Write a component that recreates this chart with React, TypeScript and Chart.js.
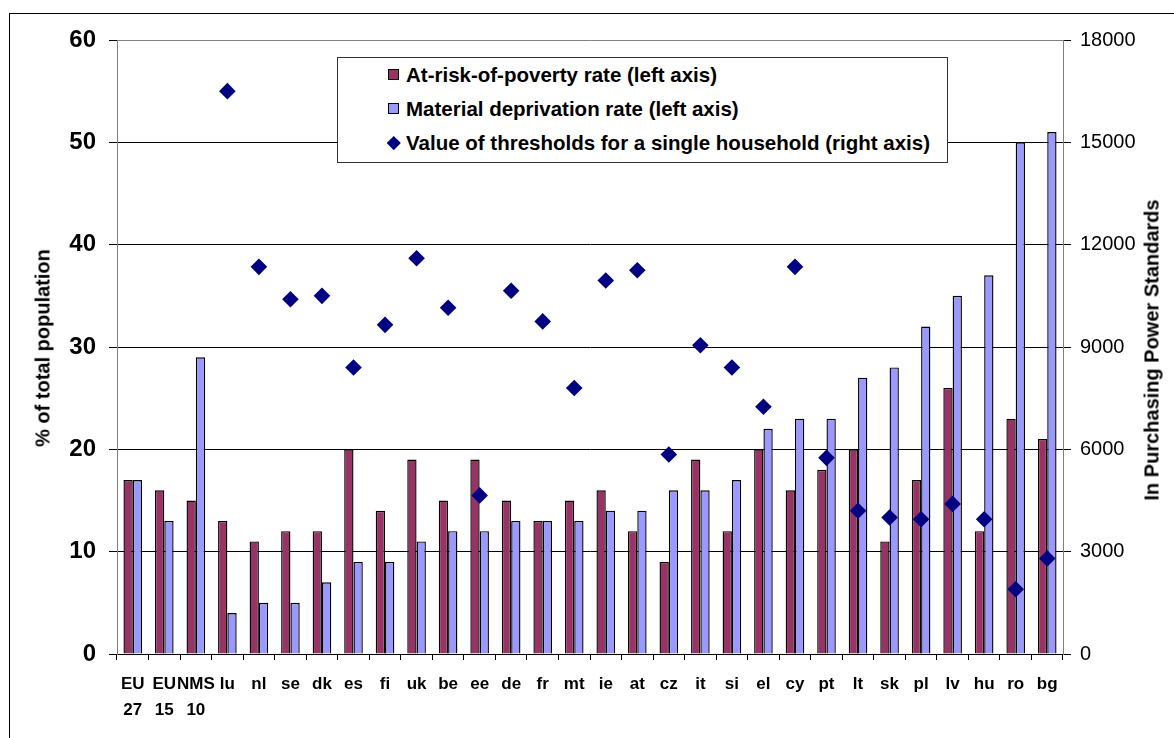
import React, { useEffect, useRef } from 'react';
import { Chart, registerables } from 'chart.js';

Chart.register(...registerables);

const FONT = "'Liberation Sans', Arial, Helvetica, sans-serif";

const categories: (string | string[])[] = [
  ['EU', '27'], ['EU', '15'], ['NMS', '10'], 'lu', 'nl', 'se', 'dk', 'es', 'fi', 'uk',
  'be', 'ee', 'de', 'fr', 'mt', 'ie', 'at', 'cz', 'it', 'si',
  'el', 'cy', 'pt', 'lt', 'sk', 'pl', 'lv', 'hu', 'ro', 'bg',
];

const povertyRate = [
  17, 16, 15, 13, 11, 12, 12, 20, 14, 19,
  15, 19, 15, 13, 15, 16, 12, 9, 19, 12,
  20, 16, 18, 20, 11, 17, 26, 12, 23, 21,
];

const deprivationRate = [
  17, 13, 29, 4, 5, 5, 7, 9, 9, 11,
  12, 12, 13, 13, 13, 14, 14, 16, 16, 17,
  22, 23, 23, 27, 28, 32, 35, 37, 50, 51,
];

const thresholds: (number | null)[] = [
  null, null, null, 16500, 11350, 10400, 10500, 8400, 9650, 11600,
  10150, 4650, 10650, 9750, 7800, 10950, 11250, 5850, 9050, 8400,
  7250, 11350, 5750, 4200, 4000, 3950, 4400, 3950, 1900, 2800,
];

const leftTicks = [0, 10, 20, 30, 40, 50, 60];
const rightTicks = [0, 3000, 6000, 9000, 12000, 15000, 18000];

const legendLabels = [
  'At-risk-of-poverty rate (left axis)',
  'Material deprivation rate (left axis)',
  'Value of thresholds for a single household (right axis)',
];

const MAROON = '#993366';
const LIGHTBLUE = '#9999FF';
const NAVY = '#000080';

export default function App() {
  const canvasRef = useRef<HTMLCanvasElement | null>(null);

  useEffect(() => {
    if (!canvasRef.current) return;
    Chart.defaults.font.family = FONT;
    const chart = new Chart(canvasRef.current, {
      type: 'bar',
      data: {
        labels: categories as any,
        datasets: [
          {
            type: 'line',
            label: legendLabels[2],
            data: thresholds as any,
            yAxisID: 'y1',
            showLine: false,
            pointStyle: 'rectRot',
            pointRadius: 8.3,
            pointBackgroundColor: NAVY,
            pointBorderColor: NAVY,
            pointBorderWidth: 0,
            order: 0,
          } as any,
          {
            type: 'bar',
            label: legendLabels[0],
            data: povertyRate,
            yAxisID: 'y',
            backgroundColor: MAROON,
            borderColor: '#000',
            borderWidth: 1.4,
            order: 1,
          },
          {
            type: 'bar',
            label: legendLabels[1],
            data: deprivationRate,
            yAxisID: 'y',
            backgroundColor: LIGHTBLUE,
            borderColor: '#000',
            borderWidth: 1.4,
            order: 1,
          },
        ],
      },
      options: {
        responsive: false,
        animation: false,
        devicePixelRatio: 1,
        layout: { padding: { top: 40, left: 0, right: 0, bottom: 0 } },
        plugins: { legend: { display: false }, tooltip: { enabled: false } },
        datasets: { bar: { categoryPercentage: 0.59, barPercentage: 1 } } as any,
        scales: {
          x: {
            type: 'category',
            offset: true,
            grid: {
              display: true,
              drawOnChartArea: false,
              drawTicks: true,
              tickLength: 6,
              tickColor: '#000',
              offset: true,
            },
            border: { color: '#000', width: 1 },
            ticks: {
              color: '#000',
              font: { size: 17, weight: 'bold', lineHeight: 1.55 },
              padding: 11,
              autoSkip: false,
              maxRotation: 0,
              minRotation: 0,
            },
            afterFit: (s: any) => { s.height = 84; },
          },
          y: {
            position: 'left',
            min: 0,
            max: 60,
            afterBuildTicks: (s: any) => { s.ticks = leftTicks.map((v) => ({ value: v })); },
            ticks: {
              color: '#000',
              font: { size: 24, weight: 'bold' },
              padding: 13,
              callback: (v: any) => String(v),
            },
            grid: {
              color: (ctx: any) => (ctx.tick && ctx.tick.value === 60 ? '#808080' : '#000'),
              tickColor: '#000',
              tickLength: 8,
              lineWidth: 1,
            },
            border: { color: '#808080', width: 1 },
            afterFit: (s: any) => { s.width = 117; },
          },
          y1: {
            position: 'right',
            min: 0,
            max: 18000,
            afterBuildTicks: (s: any) => { s.ticks = rightTicks.map((v) => ({ value: v })); },
            ticks: {
              color: '#000',
              font: { size: 20 },
              padding: 9,
              callback: (v: any) => String(v),
            },
            grid: {
              drawOnChartArea: false,
              tickLength: 8,
              tickColor: '#000',
            },
            border: { color: '#808080', width: 1 },
            afterFit: (s: any) => { s.width = 111; },
          },
        },
      } as any,
    });
    return () => chart.destroy();
  }, []);

  const legendText: React.CSSProperties = {
    position: 'absolute',
    left: 68,
    height: 34,
    lineHeight: '34px',
    fontFamily: FONT,
    fontWeight: 'bold',
    fontSize: 20.5,
    color: '#000',
    whiteSpace: 'nowrap',
  };

  return (
    <div style={{ position: 'absolute', left: 0, top: 0, width: 1174, height: 738, overflow: 'hidden', background: '#fff' }}>
      <div style={{ position: 'absolute', left: 9, top: 13, width: 1300, height: 900, border: '1px solid #000' }} />
      <canvas ref={canvasRef} width={1174} height={738} style={{ position: 'absolute', left: 0, top: 0, width: 1174, height: 738 }} />
      <div
        style={{
          position: 'absolute', left: 43, top: 348, transform: 'translate(-50%, -50%) rotate(-90deg)',
          fontFamily: FONT, fontWeight: 'bold', fontSize: 20, whiteSpace: 'nowrap', color: '#000',
        }}
      >
        % of total population
      </div>
      <div
        style={{
          position: 'absolute', left: 1152, top: 350, transform: 'translate(-50%, -50%) rotate(-90deg)',
          fontFamily: FONT, fontWeight: 'bold', fontSize: 20, whiteSpace: 'nowrap', color: '#000',
        }}
      >
        In Purchasing Power Standards
      </div>
      <div
        style={{
          position: 'absolute', left: 337, top: 57, width: 611, height: 106, boxSizing: 'border-box',
          border: '1px solid #333', background: '#fff',
        }}
      >
        <div style={{ position: 'absolute', left: 50, top: 11, width: 11, height: 11, boxSizing: 'border-box', border: '1px solid #000', background: MAROON }} />
        <div style={{ ...legendText, top: 0 }}>{legendLabels[0]}</div>
        <div style={{ position: 'absolute', left: 50, top: 45, width: 11, height: 11, boxSizing: 'border-box', border: '1px solid #000', background: LIGHTBLUE }} />
        <div style={{ ...legendText, top: 34 }}>{legendLabels[1]}</div>
        <div style={{ position: 'absolute', left: 51, top: 80, width: 9.5, height: 9.5, background: NAVY, transform: 'rotate(45deg)' }} />
        <div style={{ ...legendText, top: 68 }}>{legendLabels[2]}</div>
      </div>
    </div>
  );
}
